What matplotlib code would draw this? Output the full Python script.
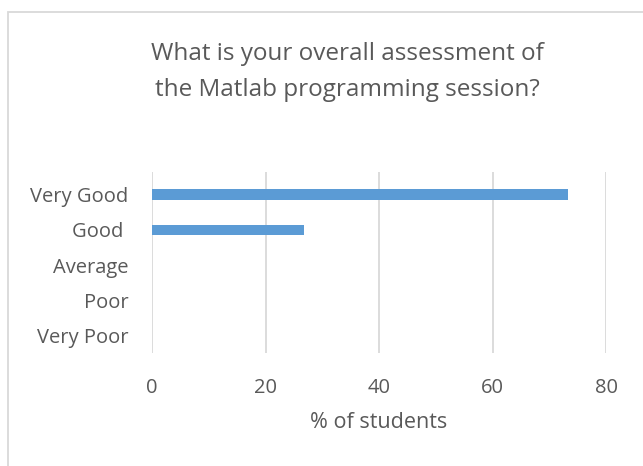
import matplotlib
matplotlib.use("Agg")
import matplotlib.pyplot as plt
from matplotlib.patches import Rectangle

categories = ["Very Good", "Good ", "Average", "Poor", "Very Poor"]
values = [73.3, 26.7, 0, 0, 0]
xticks = [0, 20, 40, 60, 80]
title = "What is your overall assessment of\nthe Matlab programming session?"
xlabel = "% of students"

plt.rcParams['font.family'] = ['Open Sans', 'DejaVu Sans']
TXT = "#595959"
GRID = "#D9D9D9"
BAR = "#5B9BD5"

W, H = 643, 466
fig = plt.figure(figsize=(W / 100, H / 100), dpi=100)
ax = fig.add_axes([152 / W, 1 - 353 / H, (606 - 152) / W, (353 - 172) / H])

ypos = list(range(len(categories)))
ax.barh(ypos, values, height=0.31, color=BAR, zorder=3)
ax.set_ylim(4.5, -0.65)
ax.set_xlim(0, 80)
ax.set_xticks(xticks)
ax.set_xticklabels([str(t) for t in xticks])
ax.set_yticks(ypos)
ax.set_yticklabels(categories)
ax.tick_params(axis='both', length=0, colors=TXT, labelsize=14.5)
ax.tick_params(axis='x', pad=18)
ax.tick_params(axis='y', pad=17)
for s in ax.spines.values():
    s.set_visible(False)
ax.grid(axis='x', color=GRID, linewidth=1.3, zorder=0)
ax.set_xlabel(xlabel, color=TXT, fontsize=15.5, labelpad=10)

fig.text(347 / W, 1 - 72 / H, title, ha='center', va='center', color=TXT,
         fontsize=17.5, linespacing=1.72)

fig.patches.append(Rectangle((8 / W, -0.1), 1.2, 1.1 - 12 / H,
                             transform=fig.transFigure, fill=False,
                             edgecolor=GRID, linewidth=1.3))

fig.savefig("out.png", dpi=100, facecolor="white")
